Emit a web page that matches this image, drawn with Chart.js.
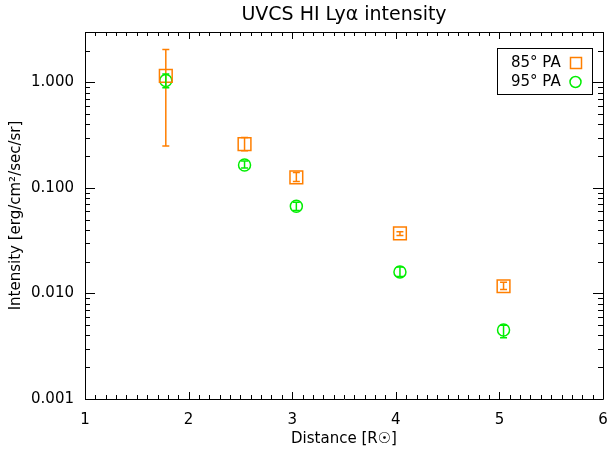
<!DOCTYPE html>
<html><head><meta charset="utf-8">
<script src="https://cdn.jsdelivr.net/npm/chart.js@4/dist/chart.umd.min.js"></script>
<style>html,body{margin:0;padding:0;background:#fff}#wrap{width:608px;height:451px}</style>
</head><body><div id="wrap"><canvas id="c" width="608" height="451"></canvas></div>
<script>
// Heliocentric distance (solar radii) and H I Ly-alpha intensity with error limits
const distance85 = [1.78, 2.54, 3.04, 4.04, 5.04];
const intensity85 = [1.15, 0.26, 0.126, 0.037, 0.0117];
const low85 = [0.25, 0.225, 0.115, 0.0355, 0.0109];
const high85 = [2.05, 0.30, 0.140, 0.0385, 0.0128];

const distance95 = [1.78, 2.54, 3.04, 4.04, 5.04];
const intensity95 = [1.04, 0.165, 0.067, 0.016, 0.0045];
const low95 = [0.89, 0.154, 0.061, 0.0145, 0.0038];
const high95 = [1.20, 0.180, 0.073, 0.0178, 0.0050];

const xTickValues = [1, 2, 3, 4, 5, 6];
const yTickValues = [0.001, 0.01, 0.1, 1];

const ORANGE = '#ff7f00';
const GREEN = '#00ee00';
const FONT = 'DejaVu Sans';
const INK = '#000';

// error bars with small caps, drawn through the chart scales
const errorBars = {
  id: 'errorBars',
  afterDatasetsDraw(chart) {
    const ctx = chart.ctx, xs = chart.scales.x, ys = chart.scales.y;
    chart.data.datasets.forEach(ds => {
      ctx.save();
      ctx.strokeStyle = ds.borderColor;
      ctx.lineWidth = 1.5;
      ds.data.forEach((p, i) => {
        const x = xs.getPixelForValue(p.x);
        const y1 = ys.getPixelForValue(ds.errLow[i]);
        const y2 = ys.getPixelForValue(ds.errHigh[i]);
        ctx.beginPath();
        ctx.moveTo(x, y1); ctx.lineTo(x, y2);
        ctx.moveTo(x - 3.5, y1); ctx.lineTo(x + 3.5, y1);
        ctx.moveTo(x - 3.5, y2); ctx.lineTo(x + 3.5, y2);
        ctx.stroke();
      });
      ctx.restore();
    });
  }
};

// box frame with inward major/minor ticks on all four sides
const frameTicks = {
  id: 'frameTicks',
  afterDraw(chart) {
    const ctx = chart.ctx, a = chart.chartArea, xs = chart.scales.x, ys = chart.scales.y;
    ctx.save();
    ctx.strokeStyle = INK;
    ctx.lineWidth = 1;
    ctx.beginPath();
    ctx.rect(Math.round(a.left) + 0.5, Math.round(a.top) + 0.5,
             Math.round(a.right - a.left), Math.round(a.bottom - a.top));
    ctx.stroke();
    ctx.beginPath();
    for (let k = 10; k <= 60; k++) {
      const v = k / 10;
      const x = Math.round(xs.getPixelForValue(v)) + 0.5;
      const len = (k % 10 === 0) ? 7 : 4;
      ctx.moveTo(x, a.bottom); ctx.lineTo(x, a.bottom - len);
      ctx.moveTo(x, a.top); ctx.lineTo(x, a.top + len);
    }
    for (let e = -3; e <= 0; e++) {
      for (let m = 1; m <= 9; m++) {
        const v = m * Math.pow(10, e);
        if (v > ys.max + 1e-12) continue;
        const y = Math.round(ys.getPixelForValue(v)) + 0.5;
        const len = (m === 1) ? 10 : 5;
        ctx.moveTo(a.left, y); ctx.lineTo(a.left + len, y);
        ctx.moveTo(a.right, y); ctx.lineTo(a.right - len, y);
      }
    }
    ctx.stroke();
    ctx.restore();
  }
};

// boxed key in the upper right of the plot
const boxedKey = {
  id: 'boxedKey',
  afterDraw(chart) {
    const ctx = chart.ctx;
    const bx = 497.5, by = 48.5, bw = 95, bh = 46;
    ctx.save();
    ctx.fillStyle = '#fff';
    ctx.fillRect(bx, by, bw, bh);
    ctx.strokeStyle = INK;
    ctx.lineWidth = 1;
    ctx.strokeRect(bx, by, bw, bh);
    ctx.font = '15px ' + FONT;
    ctx.fillStyle = INK;
    ctx.textBaseline = 'middle';
    const rows = [63, 82];
    chart.data.datasets.forEach((ds, i) => {
      ctx.fillText(ds.label, 511, rows[i]);
      ctx.strokeStyle = ds.borderColor;
      ctx.lineWidth = 1.5;
      ctx.beginPath();
      if (ds.pointStyle === 'rect') ctx.rect(570.5, rows[i] - 5.5, 11, 11);
      else ctx.arc(575.5, rows[i], 5.5, 0, Math.PI * 2);
      ctx.stroke();
    });
    ctx.restore();
  }
};

const toPoints = (xs, ys) => xs.map((x, i) => ({ x, y: ys[i] }));

new Chart(document.getElementById('c'), {
  type: 'scatter',
  data: {
    datasets: [
      { label: '85° PA', data: toPoints(distance85, intensity85), errLow: low85, errHigh: high85,
        pointStyle: 'rect', pointRadius: 9, pointBorderWidth: 1.5,
        borderColor: ORANGE, backgroundColor: 'rgba(0,0,0,0)', showLine: false },
      { label: '95° PA', data: toPoints(distance95, intensity95), errLow: low95, errHigh: high95,
        pointStyle: 'circle', pointRadius: 6, pointBorderWidth: 1.5,
        borderColor: GREEN, backgroundColor: 'rgba(0,0,0,0)', showLine: false }
    ]
  },
  options: {
    responsive: false,
    animation: false,
    devicePixelRatio: 1,
    layout: { autoPadding: false, padding: { left: 0, right: 0, top: 0, bottom: 0 } },
    plugins: {
      legend: { display: false },
      tooltip: { enabled: false },
      title: { display: true, fullSize: false, text: 'UVCS HI Lyα intensity', color: INK,
               font: { family: FONT, size: 19, weight: 'normal' }, padding: { top: 4, bottom: 5.2 } }
    },
    scales: {
      x: {
        type: 'linear', min: 1, max: 6,
        afterBuildTicks: s => { s.ticks = xTickValues.map(v => ({ value: v })); },
        afterFit: s => { s.height = 52; s.paddingRight = 5; },
        grid: { display: false }, border: { display: false },
        ticks: { color: INK, padding: 4, maxRotation: 0, autoSkip: false,
                 font: { family: FONT, size: 15 }, callback: v => String(v) },
        title: { display: true, text: 'Distance [R☉]', color: INK,
                 font: { family: FONT, size: 15 }, padding: { top: 0, bottom: 3 } }
      },
      y: {
        type: 'logarithmic', min: 0.001, max: 3,
        afterBuildTicks: s => { s.ticks = yTickValues.map(v => ({ value: v })); },
        afterFit: s => { s.width = 85; },
        grid: { display: false }, border: { display: false },
        ticks: { color: INK, padding: 3, autoSkip: false,
                 font: { family: FONT, size: 15 }, callback: v => Number(v).toFixed(3) },
        title: { display: true, text: 'Intensity [erg/cm²/sec/sr]', color: INK,
                 font: { family: FONT, size: 15 }, padding: { top: 7, bottom: 0 } }
      }
    }
  },
  plugins: [errorBars, frameTicks, boxedKey]
});
</script>
</body></html>
